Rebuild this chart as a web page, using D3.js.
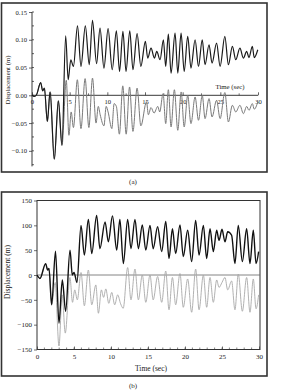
<!DOCTYPE html>
<html><head><meta charset="utf-8">
<script src="https://cdn.jsdelivr.net/npm/d3@7"></script>
<style>body{margin:0;background:#fff}svg{display:block}text{font-family:"Liberation Serif","Times New Roman",serif;fill:#222}</style>
</head><body><svg id="c" width="300" height="390"></svg>
<script>
// ---------- DATA (time in s, displacement) ----------
const timeTicks = [0,5,10,15,20,25,30];
const yTicksA = [0.15,0.10,0.05,0.00,-0.05,-0.10];
const yTicksB = [150,100,50,0,-50,-100,-150];

// panel (a) shared early motion
const earlyA = [[0,0],[0.3,-0.002],[0.6,0.001],[1.15,0.023],[1.42,0.008],[1.64,0.013],[2.04,-0.047],[2.4,0.006],[2.96,-0.115],[3.5,-0.01],[3.98,-0.09]];
const blackA = [[4.47,0.107],[4.8,0.028],[5.15,0.064],[5.5,0.052],[6.04,0.125],[6.5,0.052],[7.08,0.125],[7.6,0.055],[8.03,0.135],[8.57,0.057],[9.03,0.121],[9.55,0.049],[10.1,0.12],[10.65,0.046],[11.2,0.116],[11.62,0.043],[12.07,0.115],[12.48,0.043],[12.98,0.116],[13.4,0.046],[13.95,0.111],[14.45,0.052],[15.05,0.097],[15.36,0.067],[15.8,0.085],[16.25,0.067],[16.56,0.079],[17.0,0.064],[17.44,0.100],[17.75,0.052],[18.1,0.110],[18.46,0.040],[18.99,0.112],[19.35,0.040],[19.79,0.112],[20.2,0.043],[20.67,0.106],[21.1,0.049],[21.65,0.100],[22.1,0.052],[22.6,0.100],[22.97,0.055],[23.5,0.091],[23.9,0.058],[24.5,0.094],[24.97,0.052],[25.6,0.106],[26.07,0.055],[26.6,0.088],[27.05,0.064],[27.6,0.085],[28.06,0.067],[28.5,0.079],[28.8,0.068],[29.25,0.088],[29.5,0.068],[29.97,0.082]];
const grayA = [[4.55,0.027],[4.9,-0.072],[5.2,-0.03],[5.5,-0.058],[6.02,0.028],[6.5,-0.06],[7.05,0.03],[7.55,-0.058],[8.03,0.031],[8.5,-0.05],[8.8,-0.02],[9.05,-0.035],[9.55,-0.055],[9.85,-0.02],[10.1,-0.03],[10.6,-0.06],[10.9,-0.015],[11.2,-0.02],[11.6,-0.07],[12.05,0.017],[12.5,-0.07],[12.95,0.015],[13.4,-0.065],[13.95,0.013],[14.45,-0.055],[15.2,-0.012],[15.45,-0.035],[15.8,-0.022],[16.2,-0.032],[16.7,-0.02],[16.95,-0.03],[17.4,0.003],[17.75,-0.051],[18.1,0.01],[18.46,-0.057],[18.9,0.01],[19.35,-0.063],[19.8,0.006],[20.2,-0.057],[20.67,0.0],[21.1,-0.051],[21.65,-0.003],[22.1,-0.045],[22.6,0.0],[22.97,-0.042],[23.5,-0.006],[23.9,-0.039],[24.5,-0.009],[24.97,-0.042],[25.6,0.005],[26.07,-0.048],[26.6,-0.018],[27.05,-0.03],[27.6,-0.018],[28.06,-0.033],[28.5,-0.02],[28.8,-0.027],[29.25,-0.015],[29.5,-0.025],[29.97,-0.012]];

// panel (b)
const earlyB = [[0,0],[0.4,-7],[1.17,23],[1.44,10],[1.62,13],[1.98,-60]];
const blackB = [[2.5,48],[2.97,-97],[3.42,-10],[3.87,-73],[4.46,50],[4.77,0],[5.0,5],[5.4,-15],[5.95,100],[6.4,40],[6.94,112],[7.4,43],[8.06,120],[8.5,53],[9.2,107],[9.64,67],[10.2,119],[10.77,50],[11.2,112],[11.67,23],[12.25,112],[12.7,53],[13.24,112],[13.7,53],[14.23,101],[14.7,50],[15.27,100],[15.7,53],[16.3,97],[16.85,47],[17.4,108],[17.84,33],[18.3,93],[18.74,43],[19.32,101],[19.77,37],[20.36,90],[20.9,27],[21.44,110],[21.9,40],[22.48,100],[22.93,33],[23.38,93],[23.83,47],[24.28,90],[24.6,70],[25.0,92],[25.4,67],[25.77,87],[26.3,80],[26.75,23],[27.2,100],[27.75,27],[28.33,93],[28.78,23],[29.23,90],[29.6,23],[29.95,47]];
const grayB = [[2.45,-15],[2.97,-143],[3.4,-40],[3.82,-117],[4.45,-5],[4.8,-55],[5.1,-30],[5.45,-50],[5.95,5],[6.4,-62],[6.94,10],[7.4,-60],[7.95,-20],[8.3,-77],[8.7,-30],[9.0,-45],[9.3,-28],[9.7,-57],[10.1,-35],[10.5,-60],[10.9,-40],[11.3,-58],[11.65,-67],[12.25,15],[12.7,-50],[13.24,12],[13.7,-50],[14.23,0],[14.7,-55],[15.27,0],[15.7,-50],[16.3,-3],[16.85,-55],[17.4,8],[17.84,-70],[18.3,-5],[18.74,-60],[19.32,3],[19.77,-65],[20.36,-8],[20.9,-75],[21.44,12],[21.9,-70],[22.48,0],[22.93,-65],[23.38,-5],[23.83,-55],[24.28,-10],[24.6,-25],[25.0,-15],[25.4,-5],[25.77,-30],[26.3,-12],[26.75,-70],[27.2,2],[27.75,-73],[28.33,-5],[28.78,-75],[29.23,-8],[29.6,-68],[29.95,-40]];

// ---------- DRAW ----------
const svg = d3.select("#c");
svg.append("rect").attr("width",300).attr("height",390).attr("fill","#fff");

// ===== Panel (a) =====
svg.append("rect").attr("x",1.5).attr("y",3).attr("width",265.5).attr("height",169)
  .attr("fill","none").attr("stroke","#333").attr("stroke-width",1.6);
const xA = d3.scaleLinear().domain([0,30]).range([32,258]);
const yA = d3.scaleLinear().domain([-0.15,0.15]).range([178.6,12]);
const gA = svg.append("g");
// y axis
gA.append("line").attr("x1",xA(0)).attr("x2",xA(0)).attr("y1",yA(0.15)).attr("y2",yA(-0.128)).attr("stroke","#222").attr("stroke-width",0.9);
gA.selectAll(".ym").data(d3.range(-0.125,0.151,0.025)).enter().append("line")
  .attr("x1",xA(0)).attr("x2",xA(0)+2).attr("y1",d=>yA(d)).attr("y2",d=>yA(d)).attr("stroke","#222").attr("stroke-width",0.7);
const yAxisA = d3.axisLeft(yA).tickValues(yTicksA).tickSize(3).tickPadding(2)
  .tickFormat(d=>d3.format(".2f")(d).replace("-","\u2212"));
const yaxA = gA.append("g").attr("transform",`translate(${xA(0)},0)`).call(yAxisA);
yaxA.select(".domain").remove();
yaxA.selectAll("line").attr("stroke","#222").attr("stroke-width",0.7);
yaxA.selectAll("text").attr("font-size",6.6).attr("fill","#333").style("font-family",'"Liberation Serif",serif');
// x axis at zero
const xAxisA = d3.axisBottom(xA).tickValues(timeTicks).tickSize(-3).tickPadding(4);
const xaxA = gA.append("g").attr("transform",`translate(0,${yA(0)})`).call(xAxisA);
xaxA.select(".domain").attr("stroke","#222").attr("stroke-width",0.9).attr("d",`M${xA(0)},0H${xA(30)}`);
xaxA.selectAll("line").attr("stroke","#222").attr("stroke-width",0.7);
xaxA.selectAll("text").attr("font-size",6.6).attr("fill","#333").style("font-family",'"Liberation Serif",serif');
gA.selectAll(".xm").data(d3.range(2.5,30,5)).enter().append("line")
  .attr("x1",d=>xA(d)).attr("x2",d=>xA(d)).attr("y1",yA(0)).attr("y2",yA(0)-2).attr("stroke","#222").attr("stroke-width",0.6);
const lineA = d3.line().x(d=>xA(d[0])).y(d=>yA(d[1])).curve(d3.curveMonotoneX);
gA.append("path").attr("d",lineA(earlyA.concat(grayA))).attr("fill","none").attr("stroke","#7a7a7a").attr("stroke-width",1);
gA.append("path").attr("d",lineA(earlyA.concat(blackA))).attr("fill","none").attr("stroke","#1a1a1a").attr("stroke-width",1.2);
gA.append("text").attr("x",230).attr("y",88.5).attr("text-anchor","middle").attr("font-size",6.8).text("Time (sec)");
gA.append("text").attr("transform","translate(9.5,80) rotate(-90)").attr("text-anchor","middle").attr("font-size",6.8).text("Displacement (m)");
svg.append("text").attr("x",133).attr("y",183.5).attr("text-anchor","middle").attr("font-size",7).text("(a)");

// ===== Panel (b) =====
svg.append("rect").attr("x",1.5).attr("y",192).attr("width",265.5).attr("height",184)
  .attr("fill","none").attr("stroke","#333").attr("stroke-width",1.6);
const xB = d3.scaleLinear().domain([0,30]).range([37,259]);
const yB = d3.scaleLinear().domain([-150,150]).range([349.5,200.5]);
const gB = svg.append("g");
gB.append("rect").attr("x",37).attr("y",200.5).attr("width",223).attr("height",149)
  .attr("fill","none").attr("stroke","#333").attr("stroke-width",1);
gB.append("line").attr("x1",37).attr("x2",260).attr("y1",yB(0)).attr("y2",yB(0)).attr("stroke","#666").attr("stroke-width",0.8);
const yAxisB = d3.axisLeft(yB).tickValues(yTicksB).tickSize(3).tickPadding(2);
const yaxB = gB.append("g").attr("transform",`translate(37,0)`).call(yAxisB);
yaxB.select(".domain").remove();
yaxB.selectAll("line").attr("stroke","#333").attr("stroke-width",0.7);
yaxB.selectAll("text").attr("font-size",7).attr("fill","#333").style("font-family",'"Liberation Serif",serif');
const xAxisB = d3.axisBottom(xB).tickValues(timeTicks).tickSize(-3).tickPadding(5);
const xaxB = gB.append("g").attr("transform",`translate(0,349.5)`).call(xAxisB);
xaxB.select(".domain").remove();
xaxB.selectAll("line").attr("stroke","#333").attr("stroke-width",0.7);
xaxB.selectAll("text").attr("font-size",7).attr("fill","#333").style("font-family",'"Liberation Serif",serif');
gB.selectAll(".bm").data(d3.range(1,30,1)).enter().append("line")
  .attr("x1",d=>xB(d)).attr("x2",d=>xB(d)).attr("y1",349.5).attr("y2",347.5).attr("stroke","#333").attr("stroke-width",0.6);
const lineB = d3.line().x(d=>xB(d[0])).y(d=>yB(d[1])).curve(d3.curveMonotoneX);
gB.append("path").attr("d",lineB(earlyB.concat(grayB))).attr("fill","none").attr("stroke","#a8a8a8").attr("stroke-width",0.9);
gB.append("path").attr("d",lineB(earlyB.concat(blackB))).attr("fill","none").attr("stroke","#111").attr("stroke-width",1.4);
gB.append("text").attr("x",151).attr("y",370.5).attr("text-anchor","middle").attr("font-size",7.5).text("Time (sec)");
gB.append("text").attr("transform","translate(9.5,272) rotate(-90)").attr("text-anchor","middle").attr("font-size",7.5).text("Displacement (m)");
svg.append("text").attr("x",133).attr("y",387.5).attr("text-anchor","middle").attr("font-size",7).text("(b)");
</script></body></html>
